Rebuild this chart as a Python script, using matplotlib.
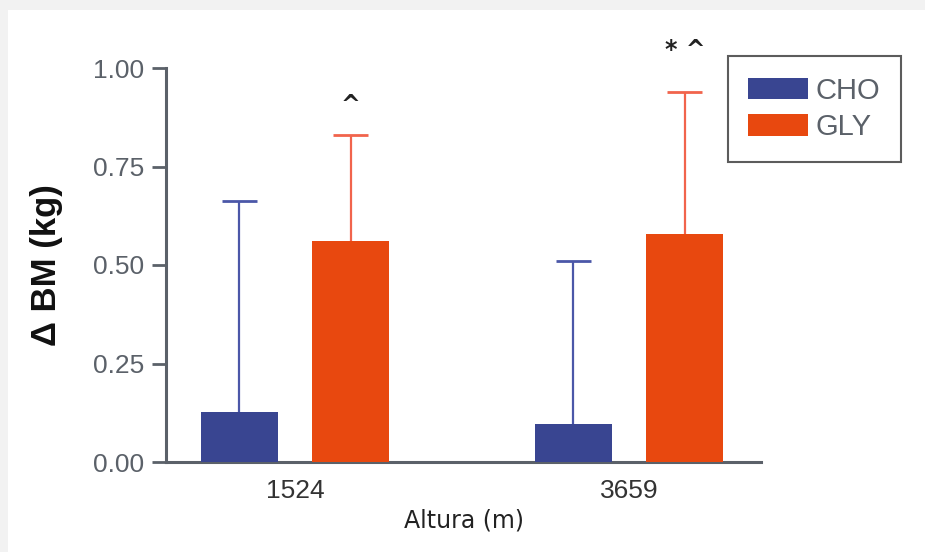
import matplotlib.pyplot as plt
import numpy as np
from matplotlib.patches import Rectangle

# data
alturas = ['1524', '3659']
cho_mean = [0.127, 0.096]
cho_sd = [0.535, 0.414]
gly_mean = [0.561, 0.579]
gly_sd = [0.269, 0.360]
marcas = ['^', '* ^']
marcas_y = [0.905, 1.045]

# colores
c_cho, c_cho_err = '#394591', '#4b57a8'
c_gly, c_gly_err = '#e8480f', '#f1644c'
gris = '#5b6169'

fig = plt.figure(figsize=(9.25, 5.52), dpi=100, facecolor='#f2f2f2')
# panel blanco (borde gris arriba e izquierda)
fig.patches.append(Rectangle((8/925, 0), 1, 1 - 10/552, transform=fig.transFigure,
                             facecolor='white', edgecolor='none', zorder=-1))
ax = fig.add_axes([166/925, 90/552, 595/925, 394/552])
ax.set_facecolor('white')

x = np.arange(len(alturas))
w, off, cap = 0.23, 0.167, 0.052
ax.bar(x - off, cho_mean, w, color=c_cho, label='CHO', zorder=3)
ax.bar(x + off, gly_mean, w, color=c_gly, label='GLY', zorder=3)
# solo la barra de error superior (sin tope inferior)
for xs, m, s, c in [(x - off, cho_mean, cho_sd, c_cho_err),
                    (x + off, gly_mean, gly_sd, c_gly_err)]:
    top = np.array(m) + np.array(s)
    ax.vlines(xs, m, top, color=c, lw=1.6, zorder=2)
    ax.hlines(top, xs - cap, xs + cap, color=c, lw=2, zorder=2)

for xi, yi, t in zip(x + off, marcas_y, marcas):
    ax.text(xi, yi, t, ha='center', va='center', fontsize=17,
            fontweight='bold', color='#222222', clip_on=False)

ax.set_xlim(-0.386, 1.395)
ax.set_ylim(0, 1.0)
ax.set_yticks([0, 0.25, 0.5, 0.75, 1.0])
ax.set_yticklabels(['0.00', '0.25', '0.50', '0.75', '1.00'],
                   family='Liberation Sans', fontsize=19, color=gris)
ax.set_xticks(x)
ax.set_xticklabels(alturas, family='Liberation Sans', fontsize=19, color='#333333')
ax.tick_params(axis='x', length=0, pad=12)
ax.tick_params(axis='y', length=10, width=2, color=gris, pad=6)
for sp in ['top', 'right']:
    ax.spines[sp].set_visible(False)
for sp in ['left', 'bottom']:
    ax.spines[sp].set_color(gris)
    ax.spines[sp].set_linewidth(2.2)

ax.set_xlabel('Altura (m)', family='DejaVu Sans', fontsize=17, color='#222222', labelpad=4)
ax.set_ylabel('Δ BM (kg)', family='Liberation Sans', fontsize=25, fontweight='bold',
              color='#111111', labelpad=21)

leg = ax.legend(loc='upper left', bbox_to_anchor=((728 - 166)/595, 1.03),
                prop={'family': 'Liberation Sans', 'size': 21}, frameon=True,
                fancybox=False, edgecolor='#333333', handlelength=2.05,
                handleheight=0.75, handletextpad=0.25, borderpad=0.7,
                labelspacing=0.3, borderaxespad=0)
leg.get_frame().set_linewidth(1.5)
for t in leg.get_texts():
    t.set_color(gris)

plt.savefig('out.png', dpi=100, facecolor=fig.get_facecolor())
